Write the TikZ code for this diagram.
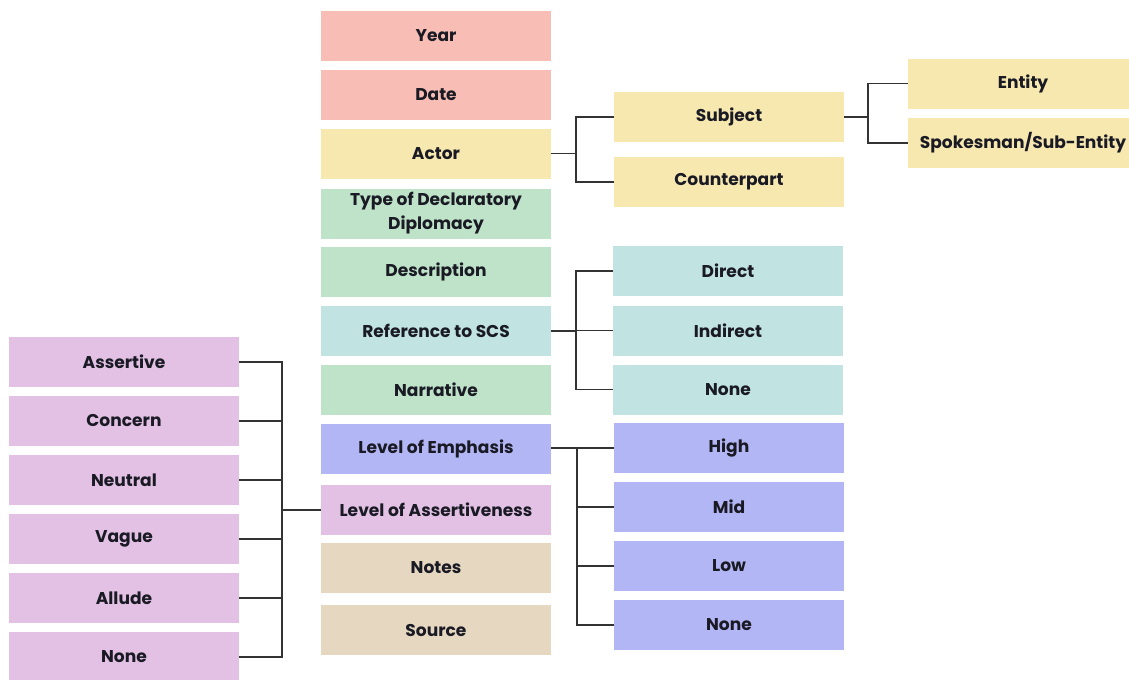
\documentclass[tikz,border=0pt]{standalone}
\usepackage{fontspec}
\setmainfont{Poppins}
\usetikzlibrary{positioning}
\definecolor{txtdark}{HTML}{1A1A24}
\definecolor{cred}{HTML}{F8BDB5}
\definecolor{cyellow}{HTML}{F7E8B0}
\definecolor{cgreen}{HTML}{BEE3C9}
\definecolor{cteal}{HTML}{C1E4E2}
\definecolor{cblue}{HTML}{B3B6F5}
\definecolor{cpink}{HTML}{E2C1E4}
\definecolor{ctan}{HTML}{E6D7C1}
\begin{document}
\begin{tikzpicture}[x=0.75pt,y=-0.75pt]
	\tikzstyle{field}=[shape=rectangle,minimum width=172.5pt,minimum height=37.5pt,inner sep=0pt,
		align=center,text=txtdark,font=\fontsize{12.8}{18}\selectfont\bfseries]
	\tikzstyle{link}=[draw=black!80,line width=0.8pt]

	\useasboundingbox (0,0) rectangle (1129,679);
	\clip (0,0) rectangle (1129,679);

	%%% main column
	\node (year) at (436,36) [field, fill=cred] {Year};
	\node (date) at (436,94.5) [field, fill=cred] {Date};
	\node (actor) at (436,153.5) [field, fill=cyellow] {Actor};
	\node (type) at (436,213.5) [field, fill=cgreen] {Type of Declaratory\\Diplomacy};
	\node (desc) at (436,272) [field, fill=cgreen] {Description};
	\node (ref) at (436,331) [field, fill=cteal] {Reference to SCS};
	\node (narr) at (436,390) [field, fill=cgreen] {Narrative};
	\node (emph) at (436,449) [field, fill=cblue] {Level of Emphasis};
	\node (assert) at (436,510) [field, fill=cpink] {Level of Assertiveness};
	\node (notes) at (436,568) [field, fill=ctan] {Notes};
	\node (source) at (436,630) [field, fill=ctan] {Source};

	%%% actor
	\node (subject) at (729,117) [field, fill=cyellow] {Subject};
	\node (counter) at (729,182) [field, fill=cyellow] {Counterpart};
	\node (entity) at (1023,83.5) [field, fill=cyellow] {Entity};
	\node (spokes) at (1023,143) [field, fill=cyellow] {Spokesman/Sub-Entity};

	\coordinate (actorfork) at (576,153.5);
	\draw[link] (actor.east) -- (actorfork);
	\draw[link] (actorfork) |- (subject.west);
	\draw[link] (actorfork) |- (counter.west);

	\coordinate (subjfork) at (868,117);
	\draw[link] (subject.east) -- (subjfork);
	\draw[link] (subjfork) |- (entity.west);
	\draw[link] (subjfork) |- (spokes.west);

	%%% reference to SCS
	\node (direct) at (728,271) [field, fill=cteal] {Direct};
	\node (indirect) at (728,330.5) [field, fill=cteal] {Indirect};
	\node (refnone) at (728,389.5) [field, fill=cteal] {None};

	\coordinate (reffork) at (576,331);
	\draw[link] (ref.east) -- (reffork);
	\foreach \n in {direct,indirect,refnone}
		\draw[link] (reffork) |- (\n.west);

	%%% level of emphasis
	\node (high) at (729,448) [field, fill=cblue] {High};
	\node (mid) at (729,507) [field, fill=cblue] {Mid};
	\node (low) at (729,566) [field, fill=cblue] {Low};
	\node (emphnone) at (729,625) [field, fill=cblue] {None};

	\coordinate (emphfork) at (577,448);
	\draw[link] (emph.east |- emphfork) -- (emphfork);
	\foreach \n in {high,mid,low,emphnone}
		\draw[link] (emphfork) |- (\n.west);

	%%% level of assertiveness
	\node (assertive) at (124,362) [field, fill=cpink] {Assertive};
	\node (concern) at (124,421) [field, fill=cpink] {Concern};
	\node (neutral) at (124,480) [field, fill=cpink] {Neutral};
	\node (vague) at (124,539) [field, fill=cpink] {Vague};
	\node (allude) at (124,598) [field, fill=cpink] {Allude};
	\node (assnone) at (124,657) [field, fill=cpink] {None};

	\coordinate (assfork) at (282,510);
	\draw[link] (assert.west) -- (assfork);
	\foreach \n in {assertive,concern,neutral,vague,allude,assnone}
		\draw[link] (assfork) |- (\n.east);
\end{tikzpicture}
\end{document}
